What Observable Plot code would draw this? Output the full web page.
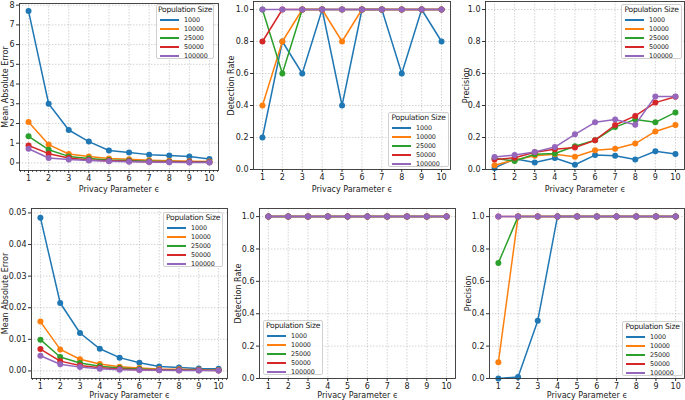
<!DOCTYPE html>
<html>
<head>
<meta charset="utf-8">
<script src="https://cdn.jsdelivr.net/npm/d3@7"></script>
<script src="https://cdn.jsdelivr.net/npm/@observablehq/plot@0.6"></script>
<style>
  html, body { margin: 0; padding: 0; background: #fff; overflow: hidden; }
  #root { position: relative; width: 685px; height: 400px; overflow: hidden; font-family: "DejaVu Sans", sans-serif; }
  .panel { position: absolute; }
  .legend { position: absolute; background: rgba(255,255,255,0.85); border: 1px solid #d0d0d0; border-radius: 2px; box-sizing: border-box; font-family: "DejaVu Sans", sans-serif; color: #222; white-space: nowrap; overflow: visible; }
  .legend .title { font-size: 7.6px; letter-spacing: -0.25px; text-align: center; line-height: 10px; margin-top: 0px; }
  .legend .row { display: flex; align-items: center; height: 9px; font-size: 6.4px; letter-spacing: -0.1px; }
  .legend .sw { width: 19px; height: 2px; margin: 0 5px 0 3px; flex: none; }
</style>
</head>
<body>
<div id="root"></div>
<script>
// ---------- data ----------
const epsilon = [1, 2, 3, 4, 5, 6, 7, 8, 9, 10];
const popSizes = ["1000", "10000", "25000", "50000", "100000"];
const seriesColors = ["#1f77b4", "#ff7f0e", "#2ca02c", "#d62728", "#9467bd"];
const xLabel = "Privacy Parameter ϵ";
const legendTitle = "Population Size";

// Top row
const maeTop = [
  [7.7, 3.0, 1.67, 1.08, 0.63, 0.53, 0.42, 0.37, 0.32, 0.2],
  [2.08, 0.93, 0.45, 0.33, 0.22, 0.18, 0.14, 0.11, 0.09, 0.07],
  [1.35, 0.67, 0.33, 0.22, 0.15, 0.12, 0.09, 0.07, 0.06, 0.04],
  [0.88, 0.47, 0.25, 0.15, 0.11, 0.08, 0.06, 0.05, 0.04, 0.03],
  [0.72, 0.25, 0.17, 0.12, 0.08, 0.06, 0.04, 0.03, 0.02, 0.02]
];
const detTop = [
  [0.2, 0.8, 0.6, 1.0, 0.4, 1.0, 1.0, 0.6, 1.0, 0.8],
  [0.4, 0.8, 1.0, 1.0, 0.8, 1.0, 1.0, 1.0, 1.0, 1.0],
  [1.0, 0.6, 1.0, 1.0, 1.0, 1.0, 1.0, 1.0, 1.0, 1.0],
  [0.8, 1.0, 1.0, 1.0, 1.0, 1.0, 1.0, 1.0, 1.0, 1.0],
  [1.0, 1.0, 1.0, 1.0, 1.0, 1.0, 1.0, 1.0, 1.0, 1.0]
];
const precTop = [
  [0.01, 0.067, 0.044, 0.072, 0.03, 0.09, 0.086, 0.063, 0.114, 0.097],
  [0.027, 0.06, 0.086, 0.095, 0.08, 0.12, 0.13, 0.162, 0.238, 0.278],
  [0.07, 0.053, 0.095, 0.1, 0.145, 0.183, 0.265, 0.313, 0.295, 0.357],
  [0.063, 0.073, 0.108, 0.126, 0.137, 0.183, 0.278, 0.335, 0.418, 0.455],
  [0.078, 0.09, 0.11, 0.14, 0.22, 0.295, 0.313, 0.28, 0.457, 0.457]
];
// Bottom row
const maeBottom = [
  [0.0485, 0.0215, 0.012, 0.007, 0.0042, 0.0026, 0.0014, 0.0011, 0.0008, 0.0007],
  [0.0156, 0.0068, 0.0037, 0.0022, 0.0013, 0.0009, 0.0006, 0.0005, 0.0004, 0.0003],
  [0.0099, 0.0044, 0.0025, 0.0015, 0.0009, 0.0006, 0.0004, 0.0003, 0.0002, 0.0002],
  [0.0069, 0.0031, 0.0017, 0.001, 0.0006, 0.0004, 0.0003, 0.0002, 0.0002, 0.0001],
  [0.0048, 0.0021, 0.0012, 0.0007, 0.0004, 0.0003, 0.0002, 0.0001, 0.0001, 0.0001]
];
const detBottom = [
  [1.0, 1.0, 1.0, 1.0, 1.0, 1.0, 1.0, 1.0, 1.0, 1.0],
  [1.0, 1.0, 1.0, 1.0, 1.0, 1.0, 1.0, 1.0, 1.0, 1.0],
  [1.0, 1.0, 1.0, 1.0, 1.0, 1.0, 1.0, 1.0, 1.0, 1.0],
  [1.0, 1.0, 1.0, 1.0, 1.0, 1.0, 1.0, 1.0, 1.0, 1.0],
  [1.0, 1.0, 1.0, 1.0, 1.0, 1.0, 1.0, 1.0, 1.0, 1.0]
];
const precBottom = [
  [0.0, 0.01, 0.357, 1.0, 1.0, 1.0, 1.0, 1.0, 1.0, 1.0],
  [0.1, 1.0, 1.0, 1.0, 1.0, 1.0, 1.0, 1.0, 1.0, 1.0],
  [0.714, 1.0, 1.0, 1.0, 1.0, 1.0, 1.0, 1.0, 1.0, 1.0],
  [1.0, 1.0, 1.0, 1.0, 1.0, 1.0, 1.0, 1.0, 1.0, 1.0],
  [1.0, 1.0, 1.0, 1.0, 1.0, 1.0, 1.0, 1.0, 1.0, 1.0]
];

const rateTicks = [0, 0.2, 0.4, 0.6, 0.8, 1.0];

// ---------- layout ----------
const panels = [
  {values: maeTop, yLabel: "Mean Absolute Error", frame: [19, 3, 218, 170], yDomain: [-0.385, 8.085],
   yTicks: [0, 1, 2, 3, 4, 5, 6, 7, 8], yFmt: d3.format("d"), minor: true, labelOff: 17, xOff: 21,
   legend: {left: 156, top: 4, width: 58}},
  {values: detTop, yLabel: "Detection Rate", frame: [253, 1, 450, 169], yDomain: [0, 1.05],
   yTicks: rateTicks, yFmt: d3.format(".1f"), minor: false, labelOff: 25, xOff: 22,
   legend: {left: 388, top: 112, width: 61}},
  {values: precTop, yLabel: "Precision", frame: [485, 1, 684, 169], yDomain: [0, 1.05],
   yTicks: rateTicks, yFmt: d3.format(".1f"), minor: false, labelOff: 22, xOff: 22,
   legend: {left: 621, top: 4, width: 61}},
  {values: maeBottom, yLabel: "Mean Absolute Error", frame: [31, 208, 227, 378], yDomain: [-0.0024, 0.0514],
   yTicks: [0, 0.01, 0.02, 0.03, 0.04, 0.05], yFmt: d3.format(".2f"), minor: true, labelOff: 29, xOff: 19,
   legend: {left: 163, top: 212, width: 60}},
  {values: detBottom, yLabel: "Detection Rate", frame: [259, 208, 455, 378], yDomain: [0, 1.05],
   yTicks: rateTicks, yFmt: d3.format(".1f"), minor: false, labelOff: 24, xOff: 19,
   legend: {left: 263, top: 320, width: 60}},
  {values: precBottom, yLabel: "Precision", frame: [489, 208, 684, 378], yDomain: [0, 1.05],
   yTicks: rateTicks, yFmt: d3.format(".1f"), minor: false, labelOff: 24, xOff: 19,
   legend: {left: 622, top: 321, width: 61}}
];

const root = document.getElementById("root");
const ML = 40, MR = 4, MT = 8, MB = 34;

for (const p of panels) {
  const [fl, ft, fr, fb] = p.frame;
  const rows = [];
  p.values.forEach((vals, si) => vals.forEach((v, i) => rows.push({eps: epsilon[i], v, s: popSizes[si]})));
  const marks = [
    Plot.gridX(epsilon, {stroke: "#b0b0b0", strokeOpacity: 0.7, strokeDasharray: "1.5,1.5", strokeWidth: 0.8}),
    Plot.gridY(p.yTicks, {stroke: "#b0b0b0", strokeOpacity: 0.7, strokeDasharray: "1.5,1.5", strokeWidth: 0.8}),
    Plot.axisX(epsilon, {tickSize: 3, tickPadding: 1.5, fontSize: 8, label: xLabel, labelAnchor: "center", labelArrow: "none", labelOffset: p.xOff, stroke: "#333"}),
    Plot.axisY(p.yTicks, {tickSize: 3, tickPadding: 2, fontSize: 8, tickFormat: p.yFmt, label: p.yLabel, labelAnchor: "center", labelArrow: "none", labelOffset: p.labelOff, stroke: "#333"})
  ];
  if (p.minor) {
    marks.push(Plot.axisX(d3.range(0.6, 10.45, 0.2).filter(t => Math.abs(t - Math.round(t)) > 0.05), {tickSize: 1.8, text: null, label: null, stroke: "#333"}));
  }
  popSizes.forEach(s => {
    const sub = rows.filter(r => r.s === s);
    marks.push(Plot.line(sub, {x: "eps", y: "v", stroke: "s", strokeWidth: 1.5}));
    marks.push(Plot.dot(sub, {x: "eps", y: "v", fill: "s", r: 3}));
  });
  marks.push(Plot.frame({stroke: "#333", strokeWidth: 0.9}));

  const chart = Plot.plot({
    width: (fr - fl) + ML + MR,
    height: (fb - ft) + MT + MB,
    marginLeft: ML, marginRight: MR, marginTop: MT, marginBottom: MB,
    style: {fontFamily: "DejaVu Sans, sans-serif", fontSize: "8px", color: "#222", background: "transparent", overflow: "visible"},
    x: {domain: [0.55, 10.45], axis: null},
    y: {domain: p.yDomain, axis: null},
    color: {domain: popSizes, range: seriesColors},
    marks
  });
  chart.classList.add("panel");
  chart.style.left = (fl - ML) + "px";
  chart.style.top = (ft - MT) + "px";
  root.appendChild(chart);

  // legend
  const lg = document.createElement("div");
  lg.className = "legend";
  lg.style.left = p.legend.left + "px";
  lg.style.top = p.legend.top + "px";
  lg.style.width = p.legend.width + "px";
  lg.style.height = "55px";
  const t = document.createElement("div");
  t.className = "title";
  t.textContent = legendTitle;
  lg.appendChild(t);
  popSizes.forEach((s, i) => {
    const r = document.createElement("div");
    r.className = "row";
    const sw = document.createElement("span");
    sw.className = "sw";
    sw.style.background = seriesColors[i];
    const tx = document.createElement("span");
    tx.textContent = s;
    r.appendChild(sw);
    r.appendChild(tx);
    lg.appendChild(r);
  });
  root.appendChild(lg);
}
</script>
</body>
</html>
